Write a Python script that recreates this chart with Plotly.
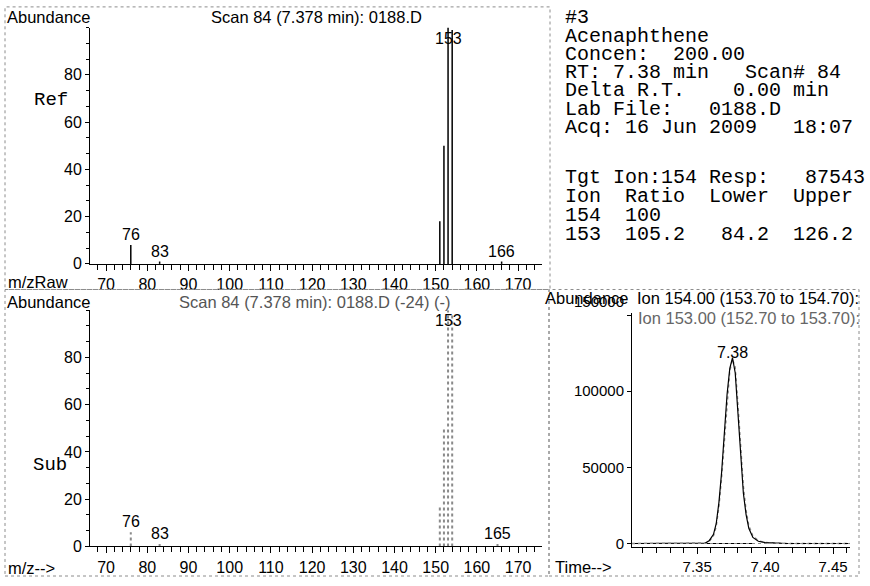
import plotly.graph_objects as go

W, H = 870, 586

# ---- Reference spectrum (library) ----
ref_mz = [76, 83, 151, 152, 153, 154, 166]
ref_ab = [8, 1, 18, 50, 100, 99, 1]
ref_labels = [76, 83, 153, 166]

# ---- Subtracted scan spectrum ----
sub_mz = [76, 83, 151, 152, 153, 154, 165]
sub_ab = [6, 1, 17, 50, 100, 99, 1]
sub_labels = [76, 83, 153, 165]

# ---- Extracted ion chromatograms ----
chrom_time = [7.302, 7.350, 7.356, 7.359, 7.362, 7.364, 7.366, 7.368, 7.370, 7.372,
              7.374, 7.376, 7.378, 7.380, 7.382, 7.384, 7.386, 7.388, 7.391, 7.395,
              7.400, 7.408, 7.416, 7.4625]
ion154 = [0, 0, 300, 2000, 6000, 13000, 27000, 47000, 72000, 98000,
          115000, 122000, 112000, 85000, 55000, 33000, 19000, 10000, 4000, 1500,
          600, 400, 0, 0]
ion153 = [0, 0, 200, 1500, 5000, 11000, 24000, 43000, 68000, 94000,
          113000, 121000, 116000, 92000, 62000, 38000, 22000, 12000, 5000, 1800,
          700, 500, 0, 0]
peak_rt = 7.376
peak_label = "7.38"
integ_start, integ_end = 7.357, 7.391

mz_ticks = [70, 80, 90, 100, 110, 120, 130, 140, 150, 160, 170]
ab_ticks = [0, 20, 40, 60, 80]
time_ticks = [7.35, 7.40, 7.45]
time_ticktext = ["7.35", "7.40", "7.45"]
chrom_ab_ticks = [0, 50000, 100000, 150000]

info_lines = [
    "#3",
    "Acenaphthene",
    "Concen:  200.00",
    "RT: 7.38 min   Scan# 84",
    "Delta R.T.    0.00 min",
    "Lab File:   0188.D",
    "Acq: 16 Jun 2009   18:07",
]
ion_lines = [
    "Tgt Ion:154 Resp:   87543",
    "Ion  Ratio  Lower  Upper",
    "154  100",
    "153  105.2   84.2  126.2",
]

SANS = "Liberation Sans, Arial, sans-serif"
MONO = "Courier New, Liberation Mono, monospace"


def fx(px):
    return px / W


def fy(py):
    return 1 - py / H


def stick(mz, ab):
    xs, ys = [], []
    for m, a in zip(mz, ab):
        xs += [m, m, None]
        ys += [0, a, None]
    return xs, ys


fig = go.Figure()

rx, ry = stick(ref_mz, ref_ab)
fig.add_trace(go.Scatter(x=rx, y=ry, mode="lines", xaxis="x", yaxis="y",
                         line=dict(color="black", width=1.5), hoverinfo="skip"))
sx, sy = stick(sub_mz, sub_ab)
fig.add_trace(go.Scatter(x=sx, y=sy, mode="lines", xaxis="x2", yaxis="y2",
                         line=dict(color="#8a8a8a", width=2, dash="dot"), hoverinfo="skip"))

fig.add_trace(go.Scatter(x=chrom_time, y=ion153, mode="lines", xaxis="x3", yaxis="y3",
                         line=dict(color="#8a8a8a", width=1.3, dash="dot"), hoverinfo="skip"))
fig.add_trace(go.Scatter(x=chrom_time, y=ion154, mode="lines", xaxis="x3", yaxis="y3",
                         line=dict(color="black", width=1.2), hoverinfo="skip"))
fig.add_trace(go.Scatter(x=[integ_start, integ_end], y=[0, 0], mode="lines",
                         xaxis="x3", yaxis="y3",
                         line=dict(color="black", width=1.2), hoverinfo="skip"))

spec_x = dict(range=[66.1, 175.8], tickvals=mz_ticks, ticks="outside", ticklen=6,
              tickwidth=1, tickcolor="black", showline=True, linecolor="black",
              linewidth=1, showgrid=False, zeroline=False,
              tickfont=dict(family=SANS, size=16, color="black"),
              minor=dict(dtick=2, ticks="outside", ticklen=5, tickcolor="black"))
spec_y = dict(range=[0, 100], tickvals=ab_ticks, ticks="outside", ticklen=4,
              tickcolor="black", showline=True, linecolor="black", linewidth=1,
              showgrid=False, zeroline=False,
              tickfont=dict(family=SANS, size=16, color="black"),
              minor=dict(dtick=20 / 3, ticks="outside", ticklen=3, tickcolor="black"))

fig.update_layout(
    width=W, height=H, margin=dict(l=0, r=0, t=0, b=0),
    paper_bgcolor="white", plot_bgcolor="white", showlegend=False,
    xaxis=dict(spec_x, domain=[fx(90), fx(542)], anchor="y"),
    yaxis=dict(spec_y, domain=[fy(268), fy(28)], anchor="x"),
    xaxis2=dict(spec_x, domain=[fx(90), fx(542)], anchor="y2"),
    yaxis2=dict(spec_y, domain=[fy(555), fy(315)], anchor="x2"),
    xaxis3=dict(range=[7.302, 7.4625], domain=[fx(632), fx(850)], anchor="y3",
                tickvals=time_ticks, ticktext=time_ticktext, ticks="outside",
                ticklen=6, tickcolor="black", showline=True, linecolor="black",
                showgrid=False, zeroline=False,
                tickfont=dict(family=SANS, size=15, color="black"),
                minor=dict(dtick=0.01, tick0=7.30, ticks="outside", ticklen=5,
                           tickcolor="black")),
    yaxis3=dict(range=[-2600, 151300], domain=[fy(556), fy(318)], anchor="x3",
                tickvals=chrom_ab_ticks,
                ticktext=[str(v) if v < 150000 else "" for v in chrom_ab_ticks],
                ticks="outside", ticklen=4, tickcolor="black", showline=True,
                linecolor="black", showgrid=False, zeroline=False,
                tickfont=dict(family=SANS, size=15, color="black")),
)

ann = []


def text(x, y, s, size=16.5, color="black", family=SANS, xanchor="left", yanchor="middle"):
    ann.append(dict(x=fx(x), y=fy(y), xref="paper", yref="paper", text=s,
                    showarrow=False, xanchor=xanchor, yanchor=yanchor,
                    font=dict(family=family, size=size, color=color)))


# panel headings
text(5, 17, "Abundance")
text(316, 17, "Scan 84 (7.378 min): 0188.D", xanchor="center")
text(32, 102, "Ref", size=19, family=MONO)
text(6, 286, "m/zRaw")
text(5, 307, "Abundance")
text(314, 307, "Scan 84 (7.378 min): 0188.D (-24) (-)", color="#555555", xanchor="center")
text(31, 472, "Sub", size=19, family=MONO)
text(6, 577, "m/z-->")

# chromatogram headings
text(543, 303, "Abundance")
text(635, 303, "Ion 154.00 (153.70 to 154.70):")
text(636, 323, "Ion 153.00 (152.70 to 153.70):", color="#666666")
text(626, 306, "150000", size=15, xanchor="right")
text(553, 576, "Time-->")

# compound information block
nb = lambda s: s.replace(" ", "\u00a0")
for i, line in enumerate(info_lines):
    text(563, 18 + i * 18.6, nb(line), size=20, family=MONO)
for i, line in enumerate(ion_lines):
    text(563, 180 + i * 19.5, nb(line), size=20, family=MONO)

# peak labels on the spectra
for mz, ab, labels, xa, ya in [(ref_mz, ref_ab, ref_labels, "x", "y"),
                                (sub_mz, sub_ab, sub_labels, "x2", "y2")]:
    for m, a in zip(mz, ab):
        if m in labels:
            top = a > 90
            ann.append(dict(x=m, y=min(a, 100), xref=xa, yref=ya, text=str(m),
                            showarrow=False, xanchor="center",
                            yanchor="top" if top else "bottom",
                            font=dict(family=SANS, size=16, color="black")))

# retention time label at the apex
ann.append(dict(x=peak_rt, y=max(ion154), xref="x3", yref="y3", text=peak_label,
                showarrow=False, yanchor="bottom", xanchor="center", yshift=-5,
                font=dict(family=SANS, size=16, color="black")))

fig.update_layout(annotations=ann)

# dotted panel frames and zero line of the chromatogram
frame = dict(color="#8c8c8c", width=1, dash="dot")
shapes = [
    dict(type="rect", xref="paper", yref="paper", x0=fx(5), x1=fx(550),
         y0=fy(294), y1=fy(7), line=frame),
    dict(type="rect", xref="paper", yref="paper", x0=fx(5), x1=fx(549),
         y0=fy(585), y1=fy(294), line=frame),
    dict(type="rect", xref="paper", yref="paper", x0=fx(549), x1=fx(859),
         y0=fy(585), y1=fy(294), line=frame),
    dict(type="line", xref="x3 domain", yref="y3", x0=0, x1=1, y0=0, y1=0,
         line=dict(color="#8c8c8c", width=1, dash="dot")),
]
fig.update_layout(shapes=shapes)

fig.write_html("out.html")
